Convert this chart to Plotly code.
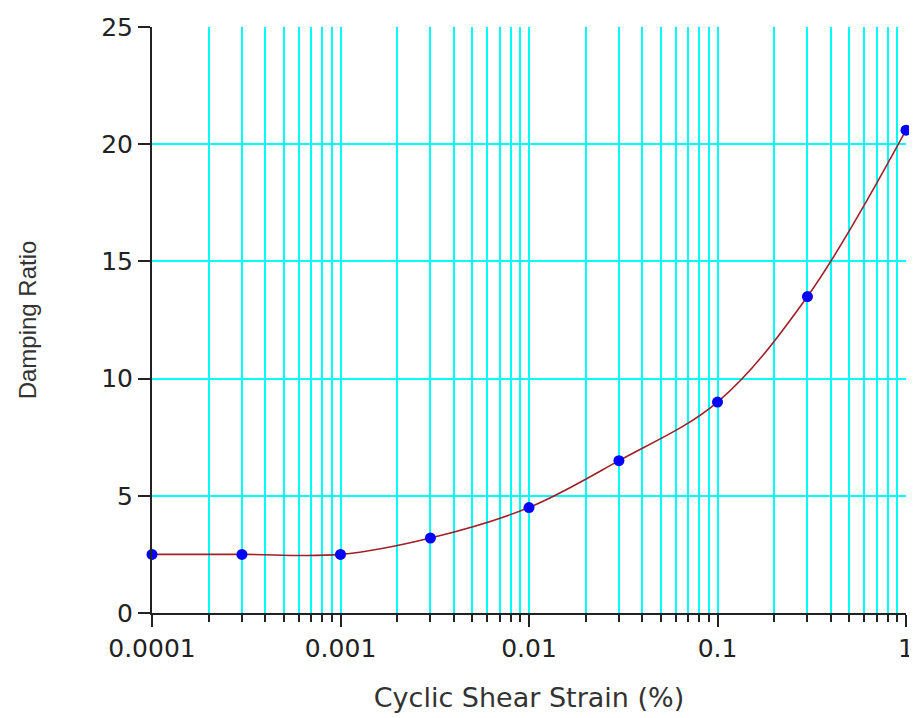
import plotly.graph_objects as go

strain = [0.0001, 0.0003, 0.001, 0.003, 0.01, 0.03, 0.1, 0.3, 1]
damping = [2.5, 2.5, 2.5, 3.2, 4.5, 6.5, 9.0, 13.5, 20.6]

x_tickvals = [0.0001, 0.001, 0.01, 0.1, 1]
x_ticktext = ["0.0001", "0.001", "0.01", "0.1", "1"]
y_tickvals = [0, 5, 10, 15, 20, 25]

fig = go.Figure()
fig.add_trace(go.Scatter(
    x=strain, y=damping, mode="lines",
    line=dict(color="#A0202A", width=1.6, shape="spline", smoothing=1.0),
    hoverinfo="skip", cliponaxis=False, showlegend=False,
))
fig.add_trace(go.Scatter(
    x=strain, y=damping, mode="markers",
    marker=dict(color="#0000FF", size=11, symbol="circle"),
    cliponaxis=False, showlegend=False,
))

font_family = "Liberation Sans, Arial, sans-serif"
fig.update_layout(
    width=909, height=710,
    margin=dict(l=144, r=11, t=19, b=105),
    paper_bgcolor="white", plot_bgcolor="white",
    font=dict(family=font_family, color="#222222"),
    xaxis=dict(
        type="log", range=[-4, 0], automargin=False,
        tickvals=x_tickvals, ticktext=x_ticktext,
        ticks="outside", ticklen=12, tickwidth=2, tickcolor="#222222",
        showline=True, linecolor="#222222", linewidth=2,
        showgrid=True, gridcolor="#00FFFF", gridwidth=2,
        tickfont=dict(size=25, family="DejaVu Sans, sans-serif"),
        minor=dict(dtick="D1", ticks="outside", ticklen=7, tickwidth=2,
                   tickcolor="#222222", showgrid=True,
                   gridcolor="#00FFFF", gridwidth=2),
        title=dict(text="Cyclic Shear Strain (%)", standoff=26,
                   font=dict(size=27, family="DejaVu Sans, sans-serif", color="#333333")),
        zeroline=False,
    ),
    yaxis=dict(
        range=[0, 25], tickvals=y_tickvals, automargin=False,
        ticks="outside", ticklen=12, tickwidth=2, tickcolor="#222222",
        showline=True, linecolor="#222222", linewidth=2,
        showgrid=True, gridcolor="#00FFFF", gridwidth=2,
        tickfont=dict(size=25, family="DejaVu Sans, sans-serif"),
        title=dict(text="Damping Ratio", standoff=58,
                   font=dict(size=24, family=font_family, color="#333333")),
        zeroline=False,
    ),
)

fig.write_html("out.html")
